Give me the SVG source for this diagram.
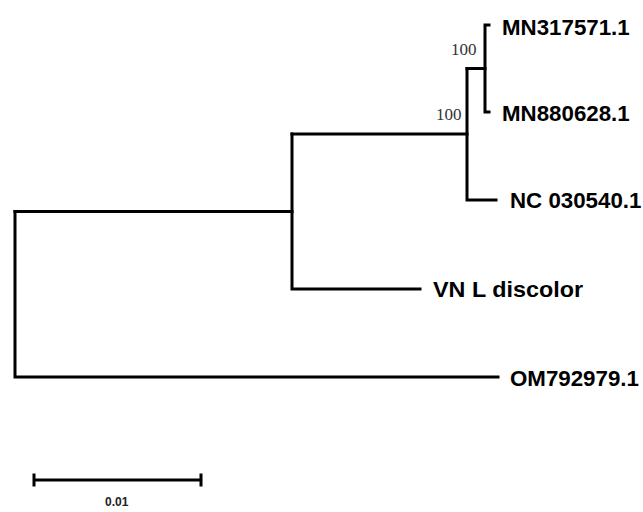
<svg xmlns="http://www.w3.org/2000/svg" width="643" height="512" viewBox="0 0 643 512">
<style>
.br{stroke:#000;stroke-width:3;fill:none;stroke-linecap:square;stroke-linejoin:miter}
.lab{font-family:"Liberation Sans",Arial,sans-serif;font-weight:bold;font-size:22.3px;fill:#000}
.bs{font-family:"Liberation Serif","Times New Roman",serif;font-size:17px;fill:#333}
.sc{font-family:"Liberation Sans",Arial,sans-serif;font-weight:bold;font-size:12px;fill:#222}
</style>
<rect width="643" height="512" fill="#fff"/>
<g id="connectors">
<path class="br" d="M15,211.5 V377 H498"/>
<path class="br" d="M15,211.5 H292"/>
<path class="br" d="M292,134 V289 H420"/>
<path class="br" d="M292,134 H467"/>
<path class="br" d="M467,68.5 V200 H496"/>
<path class="br" d="M467,68.5 H485"/>
<path class="br" d="M489,25 H485 V112 H489"/>
</g>
<g id="MN317571"><text class="lab" x="502" y="35">MN317571.1</text></g>
<g id="MN880628"><text class="lab" x="502" y="121">MN880628.1</text></g>
<g id="NC030540"><text class="lab" x="510" y="208">NC 030540.1</text></g>
<g id="VNLdiscolor"><text class="lab" x="433" y="297" textLength="150" lengthAdjust="spacingAndGlyphs">VN L discolor</text></g>
<g id="OM792979"><text class="lab" x="510" y="386">OM792979.1</text></g>
<g id="bootstrap1"><text class="bs" x="451" y="55">100</text></g>
<g id="bootstrap2"><text class="bs" x="436" y="120">100</text></g>
<g id="scalebar">
<path class="br" d="M34,480 H201 M34,475 V485 M201,475 V485" stroke-linecap="butt"/>
<text class="sc" x="105" y="506">0.01</text>
</g>
</svg>
